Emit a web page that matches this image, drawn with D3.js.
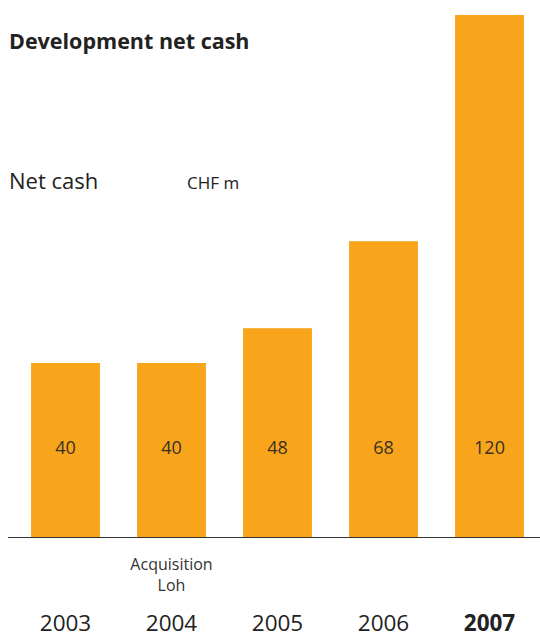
<!DOCTYPE html>
<html>
<head>
<meta charset="utf-8">
<script src="https://cdn.jsdelivr.net/npm/d3@7"></script>
<style>
  body { margin: 0; background: #fff; }
  svg { display: block; font-family: "Open Sans", "DejaVu Sans", sans-serif; }
</style>
</head>
<body>
<svg width="540" height="637"></svg>
<script>
// chart data
var years = ['2003', '2004', '2005', '2006', '2007'];
var netCash = [40, 40, 48, 68, 120];
var notes = { '2004': ['Acquisition', 'Loh'] };

var drawChart = () => {
    var svg = d3.select('svg');
    var baseline = 537;

    var x = d3.scaleBand()
        .domain(years)
        .range([12.5, 542.5])
        .paddingInner(0.35)
        .paddingOuter(0.175);

    var y = d3.scaleLinear()
        .domain([0, 120])
        .range([baseline, 15]);

    // bars
    svg.selectAll('rect.bar')
        .data(years)
        .enter().append('rect')
        .attr('class', 'bar')
        .attr('x', d => x(d))
        .attr('width', x.bandwidth())
        .attr('y', (d, i) => y(netCash[i]))
        .attr('height', (d, i) => y(0) - y(netCash[i]))
        .attr('fill', '#f8a51c');

    // value labels inside bars
    svg.selectAll('text.val')
        .data(years)
        .enter().append('text')
        .attr('class', 'val')
        .attr('x', d => x(d) + x.bandwidth() / 2)
        .attr('y', 454)
        .attr('text-anchor', 'middle')
        .attr('font-size', 18)
        .attr('fill', '#3a3022')
        .text((d, i) => netCash[i]);

    // baseline
    svg.append('line')
        .attr('x1', 8).attr('x2', 540)
        .attr('y1', baseline + 0.5).attr('y2', baseline + 0.5)
        .attr('stroke', '#333')
        .attr('stroke-width', 1);

    // x axis labels (no ticks or domain line)
    var xAxis = d3.axisBottom(x).tickSize(0).tickPadding(0);
    var gx = svg.append('g')
        .attr('transform', 'translate(0,' + 612 + ')')
        .call(xAxis);
    gx.select('.domain').remove();
    gx.selectAll('text')
        .attr('dy', 0)
        .attr('y', 19)
        .attr('font-family', '"Open Sans", sans-serif')
        .attr('font-size', 22.5)
        .attr('fill', '#222')
        .attr('font-weight', d => d === '2007' ? 'bold' : 'normal');

    // notes under bars
    Object.keys(notes).forEach(k => {
        var t = svg.append('text')
            .attr('text-anchor', 'middle')
            .attr('font-size', 16)
            .attr('fill', '#333');
        notes[k].forEach((line, j) => {
            t.append('tspan')
                .attr('x', x(k) + x.bandwidth() / 2)
                .attr('y', 570 + j * 21)
                .text(line);
        });
    });

    // titles
    svg.append('text')
        .attr('x', 9).attr('y', 49)
        .attr('font-size', 21.5)
        .attr('font-weight', 'bold')
        .attr('fill', '#222')
        .text('Development net cash');

    svg.append('text')
        .attr('x', 9).attr('y', 189)
        .attr('font-size', 22)
        .attr('fill', '#222')
        .text('Net cash');

    svg.append('text')
        .attr('x', 187).attr('y', 189)
        .attr('font-size', 17)
        .attr('fill', '#222')
        .text('CHF m');
};

drawChart();
</script>
</body>
</html>
